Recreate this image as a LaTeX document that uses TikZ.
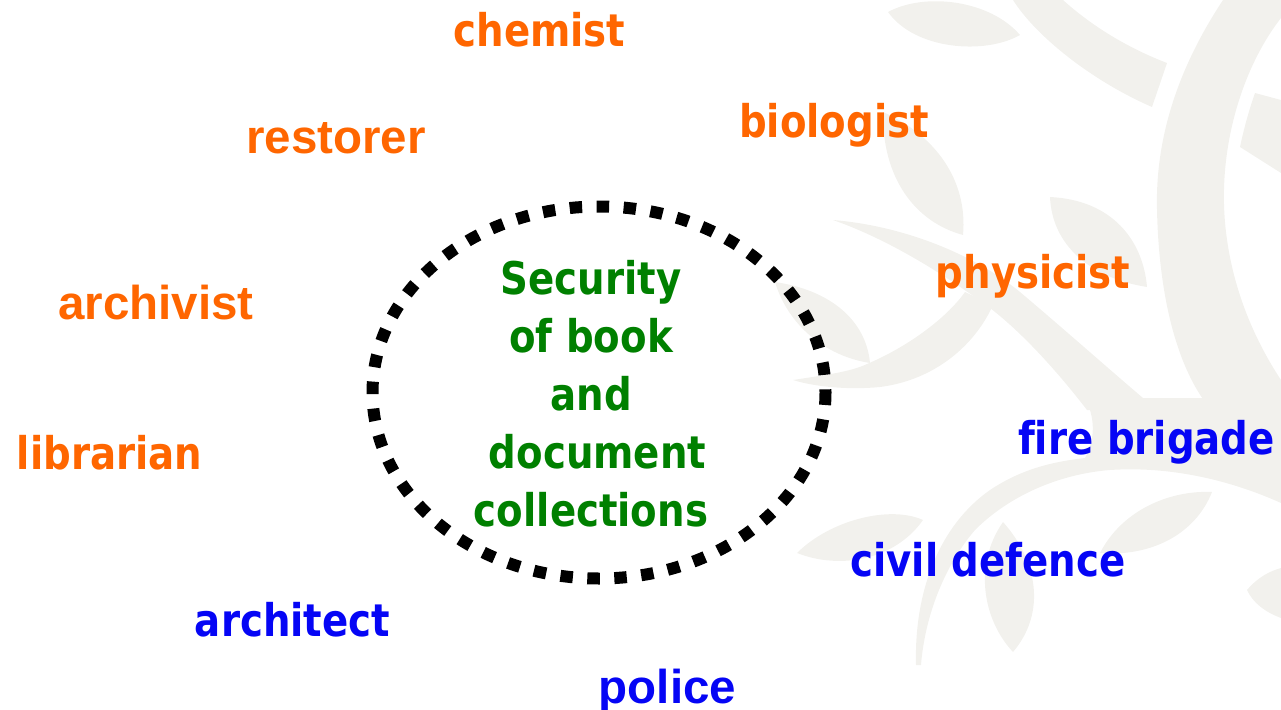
\documentclass[tikz,border=0pt]{standalone}
\usepackage{fontspec}
\newfontfamily\tahfont{DejaVu Sans}[FakeStretch=0.86,Ligatures=NoCommon]
\newfontfamily\arifont{Liberation Sans}
\definecolor{orng}{RGB}{255,102,0}
\definecolor{blu}{RGB}{5,5,245}
\definecolor{grn}{RGB}{0,128,0}
\definecolor{treegray}{RGB}{242,241,237}
\begin{document}
\begin{tikzpicture}[x=1pt,y=-1pt,
  tree/.style={fill=treegray,draw=none},
  lbl/.style={inner sep=0pt,anchor=base,font=\tahfont\bfseries\fontsize{45}{58}\selectfont},
  arlbl/.style={inner sep=0pt,anchor=base,font=\arifont\bfseries\fontsize{47.5}{58}\selectfont},
  orangetxt/.style={text=orng},
  bluetxt/.style={text=blu},
  dotring/.style={draw=black,line width=12pt,dash pattern=on 12.5pt off 14.5pt}]
\useasboundingbox (0,0) rectangle (1281,709);
% background tree
\fill[tree] (1223,0) .. controls (1180,65) and (1155,135) .. (1157,210) .. controls (1159,300) and (1178,365) .. (1205,402) -- (1281,402) -- (1281,380) .. controls (1248,330) and (1226,270) .. (1224,205) .. controls (1222,130) and (1248,60) .. (1281,18) -- (1281,0) -- cycle;
\fill[tree] (1255,93) -- (1281,100) -- (1281,173) -- (1240,147) .. controls (1244,128) and (1249,110) .. (1255,93) -- cycle;
\fill[tree] (1013,0) .. controls (1035,35) and (1090,80) .. (1152,107) -- (1167,63) .. controls (1120,45) and (1085,20) .. (1063,0) -- cycle;
\fill[tree] (888,12) .. controls (925,-8) and (990,0) .. (1020,35) .. controls (985,55) and (915,50) .. (888,12) -- cycle;
\fill[tree] (883,112) .. controls (935,135) and (968,180) .. (963,235) .. controls (915,222) and (882,178) .. (883,112) -- cycle;
\fill[tree] (1050,197) .. controls (1112,200) and (1143,240) .. (1147,287) .. controls (1090,278) and (1052,245) .. (1050,197) -- cycle;
\fill[tree] (833,220) .. controls (905,226) and (975,255) .. (1020,292) .. controls (1065,330) and (1110,370) .. (1143,398) -- (1205,398) -- (1205,410) -- (1087,410) .. controls (1060,375) and (1025,335) .. (990,308) .. controls (945,275) and (890,240) .. (833,220) -- cycle;
\fill[tree] (993,305) .. controls (975,345) and (935,380) .. (880,387) .. controls (850,390) and (815,387) .. (793,380) .. controls (825,375) and (850,372) .. (867,364) .. controls (905,348) and (945,320) .. (965,292) -- cycle;
\fill[tree] (775,282) .. controls (830,290) and (866,320) .. (870,363) .. controls (825,356) and (788,325) .. (775,282) -- cycle;
\fill[tree] (1087,402) -- (1281,402) -- (1281,503) .. controls (1230,480) and (1170,466) .. (1110,470) .. controls (1060,474) and (1010,495) .. (975,530) .. controls (945,565) and (925,615) .. (921,665) -- (916,665) .. controls (914,590) and (940,525) .. (990,490) .. controls (1020,470) and (1050,462) .. (1085,458) .. controls (1095,440) and (1095,420) .. (1087,402) -- cycle;
\fill[tree] (797,553) .. controls (830,520) and (890,505) .. (923,520) .. controls (895,560) and (840,570) .. (797,553) -- cycle;
\fill[tree] (1003,522) .. controls (1037,560) and (1047,612) .. (1013,652) .. controls (983,620) and (973,565) .. (1003,522) -- cycle;
\fill[tree] (1100,553) .. controls (1122,510) and (1170,490) .. (1212,492) .. controls (1195,535) and (1150,557) .. (1100,553) -- cycle;
\fill[tree] (1247,590) .. controls (1258,577) and (1270,571) .. (1281,568) -- (1281,618) .. controls (1265,612) and (1253,603) .. (1247,590) -- cycle;
% dotted ring
\draw[dotring] (599,392.5) ellipse [x radius=226.5, y radius=186];
% central topic
\node[lbl,text=grn,align=center,anchor=center] (topic) at (591,394)
  {Security\\of book\\and\\\hspace*{13pt}document\\collections};
% professions
\node[lbl,orangetxt] (chemist) at (539.5,47) {chemist};
\node[arlbl,orangetxt] (restorer) at (336,153) {restorer};
\node[lbl,orangetxt] (biologist) at (834,137) {biologist};
\node[lbl,orangetxt] (physicist) at (1033,288) {physicist};
\node[arlbl,orangetxt] (archivist) at (156,319) {archivist};
\node[lbl,orangetxt] (librarian) at (109.5,469) {librarian};
\node[lbl,bluetxt] (fire) at (1146.5,454) {fire brigade};
\node[lbl,bluetxt] (civil) at (988,576) {civil defence};
\node[lbl,bluetxt] (architect) at (292.5,636) {architect};
\node[arlbl,bluetxt] (police) at (667.5,703) {police};
\end{tikzpicture}
\end{document}
